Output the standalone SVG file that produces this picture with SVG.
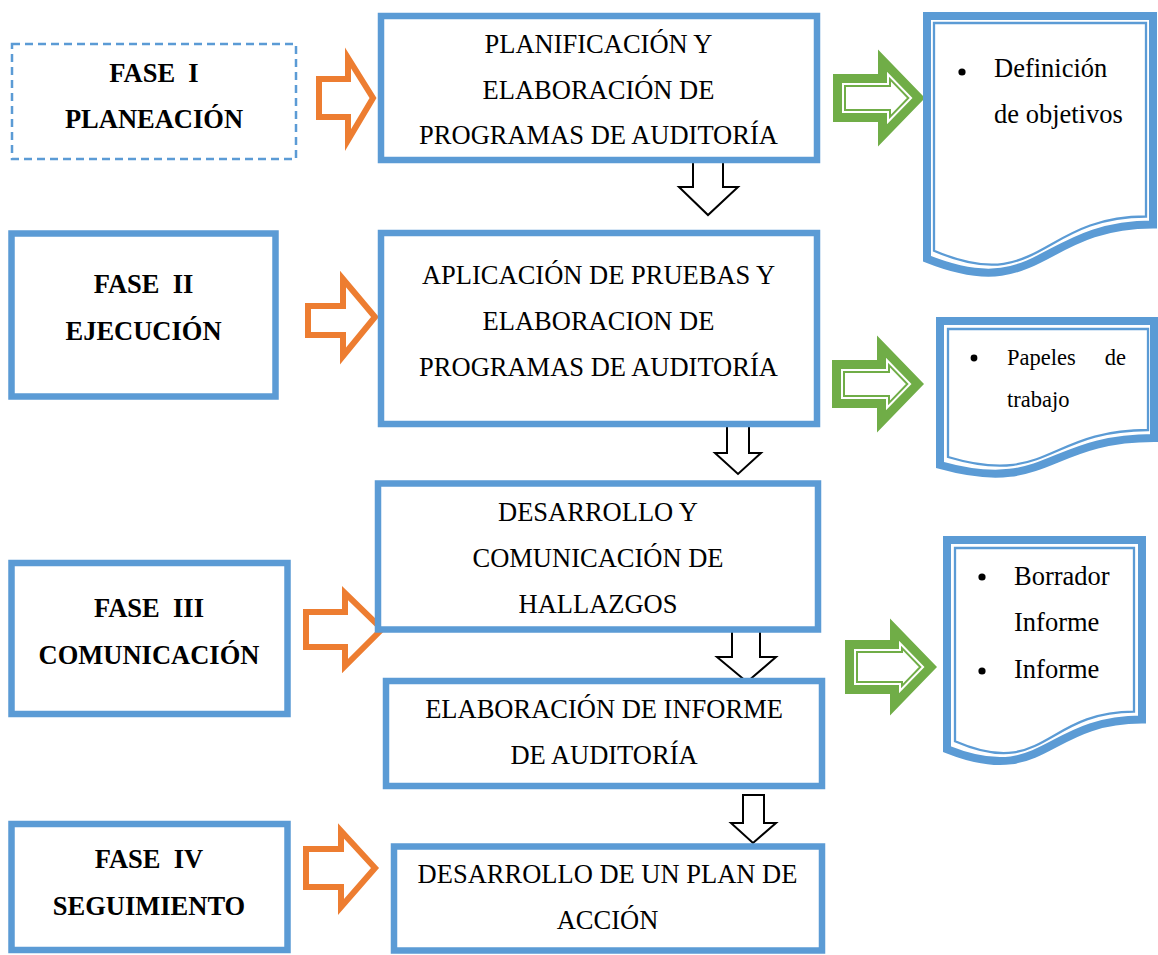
<svg xmlns="http://www.w3.org/2000/svg" width="1158" height="955" viewBox="0 0 1158 955">
  <style>
    .box{fill:#fff;stroke:#5B9BD5;stroke-width:6.5}
    .dash{fill:#fff;stroke:#5B9BD5;stroke-width:2.5;stroke-dasharray:8 5}
    .t{font-family:"Liberation Serif","Times New Roman",serif;font-size:26.5px;fill:#000;text-anchor:middle}
    .b{font-weight:bold;white-space:pre}
    .l{text-anchor:start}
    .sm{font-size:22.5px}
    .doc-o{fill:#fff;stroke:#5B9BD5;stroke-width:8}
    .doc-i{fill:none;stroke:#5B9BD5;stroke-width:2.3}
    .orange{fill:#fff;stroke:#ED7D31;stroke-width:6;stroke-miterlimit:10}
    .down{fill:#fff;stroke:#000;stroke-width:2;stroke-miterlimit:10}
    .g-out{fill:#70AD47}
    .g-mid{fill:#fff}
    .g-in{fill:#fff;stroke:#70AD47;stroke-width:2}
  </style>
  <defs>
    <!-- double-lined green block arrow, tip at the origin -->
    <g id="green-arrow">
      <polygon class="g-out" points="-92,-24 -47,-24 -47,-48.5 0,0 -47,48.5 -47,24 -92,24"/>
      <polygon class="g-mid" points="-83,-15 -38,-15 -38,-26.3 -12.5,0 -38,26.3 -38,15 -83,15"/>
      <polygon class="g-in" points="-80,-12 -35,-12 -35,-18.9 -16.7,0 -35,18.9 -35,12 -80,12"/>
    </g>
    <g id="green-arrow-wide">
      <polygon class="g-out" points="-92,-27 -47,-27 -47,-48.5 0,0 -47,48.5 -47,27 -92,27"/>
      <polygon class="g-mid" points="-83,-18 -38,-18 -38,-26.3 -12.5,0 -38,26.3 -38,18 -83,18"/>
      <polygon class="g-in" points="-80,-15 -35,-15 -35,-18.9 -16.7,0 -35,18.9 -35,15 -80,15"/>
    </g>
  </defs>

  <!-- connectors -->
  <g id="connectors">
    <!-- phase to activity -->
    <path class="orange" d="M319,79 H348 V58 L373,98 L348,140 V117 H319 Z"/>
    <path class="orange" d="M308,306 H343 V279 L375,317 L343,356 V335 H308 Z"/>
    <path class="orange" d="M306,612 H345 V593 L382,629 L345,666 V647 H306 Z"/>
    <path class="orange" d="M306,849 H341 V831 L375,868 L341,907 V887 H306 Z"/>
    <!-- activity sequence -->
    <path class="down" d="M693,160 H723 V187 H738 L708,215 L679,187 H693 Z"/>
    <path class="down" d="M727,425 H749 V453 H761 L738,474 L715,453 H727 Z"/>
    <path class="down" d="M732,630 H760 V657 H776 L747,682 L717,657 H732 Z"/>
    <path class="down" d="M743,795 H764 V823 H776 L753,843 L731,823 H743 Z"/>
    <!-- activity to deliverable -->
    <use href="#green-arrow" transform="translate(925,98)"/>
    <use href="#green-arrow" transform="translate(924,384)"/>
    <use href="#green-arrow-wide" transform="translate(937,667)"/>
  </g>

  <!-- phases -->
  <g id="fase-1">
    <rect class="dash" x="12" y="44" width="284" height="115"/>
    <text class="t b" x="154" y="82">FASE  I</text>
    <text class="t b" x="154" y="128">PLANEACIÓN</text>
  </g>
  <g id="fase-2">
    <rect class="box" x="11.5" y="233.5" width="264" height="163"/>
    <text class="t b" x="143.5" y="293">FASE  II</text>
    <text class="t b" x="143.5" y="340">EJECUCIÓN</text>
  </g>
  <g id="fase-3">
    <rect class="box" x="11.5" y="563" width="276" height="151"/>
    <text class="t b" x="149" y="617">FASE  III</text>
    <text class="t b" x="149" y="664">COMUNICACIÓN</text>
  </g>
  <g id="fase-4">
    <rect class="box" x="11.5" y="824" width="276" height="126"/>
    <text class="t b" x="149" y="868">FASE  IV</text>
    <text class="t b" x="149" y="915">SEGUIMIENTO</text>
  </g>

  <!-- activities -->
  <g id="planificacion">
    <rect class="box" x="381" y="16" width="436" height="144"/>
    <text class="t" x="598.5" y="53">PLANIFICACIÓN Y</text>
    <text class="t" x="598.5" y="99">ELABORACIÓN DE</text>
    <text class="t" x="598.5" y="144">PROGRAMAS DE AUDITORÍA</text>
  </g>
  <g id="aplicacion">
    <rect class="box" x="381" y="233" width="436" height="191"/>
    <text class="t" x="598.5" y="284">APLICACIÓN DE PRUEBAS Y</text>
    <text class="t" x="598.5" y="330">ELABORACION DE</text>
    <text class="t" x="598.5" y="376">PROGRAMAS DE AUDITORÍA</text>
  </g>
  <g id="hallazgos">
    <rect class="box" x="378" y="483.5" width="440" height="146"/>
    <text class="t" x="598" y="521">DESARROLLO Y</text>
    <text class="t" x="598" y="567">COMUNICACIÓN DE</text>
    <text class="t" x="598" y="613">HALLAZGOS</text>
  </g>
  <g id="informe">
    <rect class="box" x="386" y="681" width="436" height="105"/>
    <text class="t" x="604" y="718">ELABORACIÓN DE INFORME</text>
    <text class="t" x="604" y="764">DE AUDITORÍA</text>
  </g>
  <g id="plan-accion">
    <rect class="box" x="394" y="846.5" width="428" height="104"/>
    <text class="t" x="607.5" y="883">DESARROLLO DE UN PLAN DE</text>
    <text class="t" x="607.5" y="929">ACCIÓN</text>
  </g>

  <!-- deliverables -->
  <g id="doc-objetivos">
    <path class="doc-o" d="M927,16 H1153 V224.5 C1040,224.5 1040,304 927,258.8 Z"/>
    <path class="doc-i" d="M934,23 H1146 V216.5 C1040,216.5 1040,296 934,250.8 Z"/>
    <circle cx="962" cy="72" r="3.6"/>
    <text class="t l" x="994" y="77">Definición</text>
    <text class="t l" x="994" y="123">de objetivos</text>
  </g>
  <g id="doc-papeles">
    <path class="doc-o" d="M940,321 H1154 V438 C1047,438 1047,495 940,465 Z"/>
    <path class="doc-i" d="M948,329 H1148 V430 C1048,430 1048,487 948,457 Z"/>
    <circle cx="974" cy="358" r="3.4"/>
    <text class="t l sm" x="1007" y="365">Papeles</text>
    <text class="t sm" x="1126" y="365" style="text-anchor:end">de</text>
    <text class="t l sm" x="1007" y="407">trabajo</text>
  </g>
  <g id="doc-informe">
    <path class="doc-o" d="M947,540 H1142 V719.6 C1044.5,719.6 1044.5,788.1 947,749.2 Z"/>
    <path class="doc-i" d="M955,548 H1134 V711.6 C1044.5,711.6 1044.5,780.1 955,741.2 Z"/>
    <circle cx="982" cy="577" r="3.6"/>
    <text class="t l" x="1014" y="585">Borrador</text>
    <text class="t l" x="1014" y="631">Informe</text>
    <circle cx="982" cy="671" r="3.6"/>
    <text class="t l" x="1014" y="678">Informe</text>
  </g>
</svg>
